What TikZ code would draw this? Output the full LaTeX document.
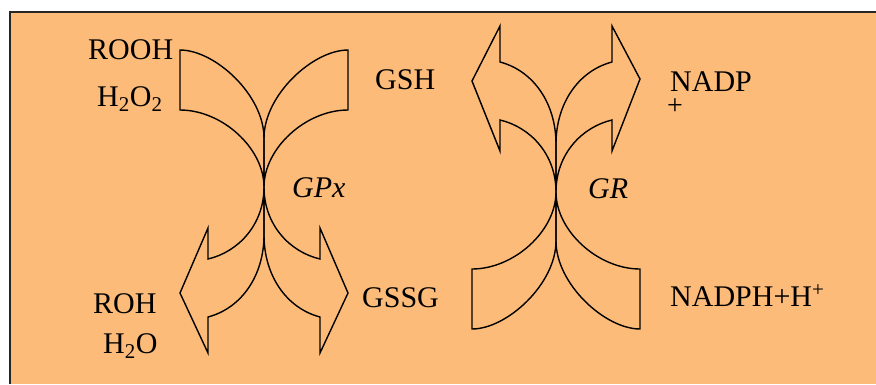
\documentclass[tikz,border=0pt]{standalone}
\usepackage{fontspec}
\setmainfont{Liberation Serif}
\definecolor{panelorange}{RGB}{253,187,122}
% one curved block arrow: square tail at the top left, bulging right,
% head at the lower left; #1 is the y of the head's tip
\newcommand\curvedband[1]{%
  \draw[band] (180,50) .. controls (215,50) and (264,95) .. (264,138)
    -- (264,235) .. controls (264,275) and (242,308) .. (208,317)
    -- (208,353) -- (180,#1) -- (208,228) -- (208,259)
    .. controls (238,252) and (264,225) .. (264,187)
    .. controls (264,148) and (222,110) .. (180,110) -- cycle;}
\begin{document}
\begin{tikzpicture}[x=1pt,y=-1pt,
  band/.style={draw=black,line width=1.4pt,line join=miter},
  lbl/.style={anchor=base west,inner sep=0pt,font=\fontsize{30}{36}\selectfont},
  enz/.style={lbl,font=\fontsize{30}{36}\selectfont\itshape}]
\useasboundingbox (0,0) rectangle (876,384);
% panel
\fill[panelorange] (10,12) rectangle (876,384);
\draw[line width=1.5pt,black!85] (10,384) -- (10,12) -- (876,12);

% GPx: ROOH/H2O2 -> ROH/H2O
\curvedband{293}
% GPx: GSH -> GSSG (mirror image)
\begin{scope}[xshift=528pt,xscale=-1]
  \curvedband{293}
\end{scope}

% GR: flipped upside down, heads at the top
\begin{scope}[xshift=292pt,yshift=-379pt,yscale=-1]
  \curvedband{298}
\end{scope}
\begin{scope}[xshift=820pt,xscale=-1,yshift=-379pt,yscale=-1]
  \curvedband{300}
\end{scope}

% labels
\node[lbl] (rooh) at (88,59) {ROOH};
\node[lbl] (hoo) at (97,106) {H\textsubscript{2}O\textsubscript{2}};
\node[lbl] (gsh) at (375,89) {GSH};
\node[enz] (gpx) at (292,197) {GPx};
\node[lbl] (roh) at (93,313) {ROH};
\node[lbl] (ho) at (103,353) {H\textsubscript{2}O};
\node[lbl] (gssg) at (362,307) {GSSG};
\node[enz] (gr) at (588,198) {GR};
\node[lbl] (nadp) at (670,91) {NADP};
\node[anchor=center,inner sep=0pt,font=\fontsize{28}{30}\selectfont] (nadpplus) at (675,107) {+};
\node[lbl] (nadph) at (670,306) {NADPH+H\textsuperscript{+}};
\end{tikzpicture}
\end{document}
